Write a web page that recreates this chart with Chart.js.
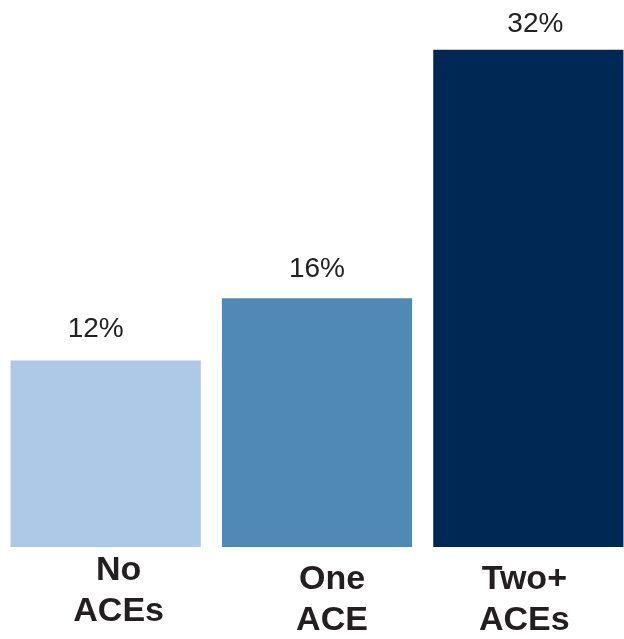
<!DOCTYPE html>
<html>
<head>
<meta charset="utf-8">
<script src="https://cdn.jsdelivr.net/npm/chart.js@4/dist/chart.umd.min.js"></script>
<style>
  html, body { margin: 0; padding: 0; background: #ffffff; overflow: hidden; }
  #wrap { position: relative; width: 634px; height: 639px; }
</style>
</head>
<body>
<div id="wrap"><canvas id="c"></canvas></div>
<script>
const categories = [["No", "ACEs"], ["One", "ACE"], ["Two+", "ACEs"]];
const values = [12, 16, 32];
const barColors = ["#AEC8E8", "#5088B6", "#002855"];

const labelPlugin = {
  id: 'labelPlugin',
  afterDatasetsDraw(chart, args, opts) {
    const ctx = chart.ctx;
    const meta = chart.getDatasetMeta(0);
    const xScale = chart.scales.x;
    const base = chart.chartArea.bottom;
    ctx.save();
    ctx.textAlign = 'center';
    ctx.textBaseline = 'middle';
    meta.data.forEach((bar, i) => {
      // value labels
      ctx.font = opts.valueFont;
      ctx.fillStyle = opts.valueColor;
      ctx.fillText(values[i] + '%', bar.x + opts.valueDx[i], bar.y - opts.valueGap[i]);
      // category labels
      ctx.font = opts.catFont;
      ctx.fillStyle = opts.catColor;
      const cx = xScale.getPixelForValue(i) + opts.catDx[i];
      categories[i].forEach((line, j) => {
        ctx.fillText(line, cx, base + opts.catDy[i] + j * opts.lineHeight);
      });
    });
    ctx.restore();
  }
};

new Chart(document.getElementById('c'), {
  type: 'bar',
  data: {
    labels: categories.map(c => c.join(' ')),
    datasets: [{
      data: values,
      backgroundColor: barColors,
      borderWidth: 0,
      barPercentage: 0.9,
      categoryPercentage: 1.0
    }]
  },
  options: {
    responsive: true,
    maintainAspectRatio: false,
    animation: false,
    layout: { padding: { left: 0, right: 0, top: 3, bottom: 92 } },
    plugins: {
      legend: { display: false },
      tooltip: { enabled: false },
      labelPlugin: {
        valueFont: '300 28px "Liberation Sans", Arial, sans-serif',
        valueColor: '#222222',
        valueDx: [-10, 0, 7],
        valueGap: [31, 29, 25],
        catFont: 'bold 34px "Liberation Sans", Arial, sans-serif',
        catColor: '#231F20',
        catDx: [13, 15, -4],
        catDy: [24, 33, 33],
        lineHeight: 41
      }
    },
    scales: {
      x: { display: false },
      y: { display: false, min: 0, max: 35 }
    }
  },
  plugins: [labelPlugin]
});
</script>
</body>
</html>
